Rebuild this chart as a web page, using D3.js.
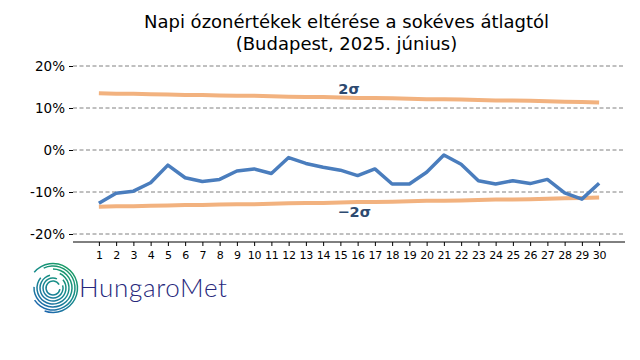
<!DOCTYPE html>
<html><head><meta charset="utf-8">
<script src="https://cdn.jsdelivr.net/npm/d3@7"></script>
<style>body{margin:0;background:#fff}svg{display:block}</style>
</head><body>
<svg id="c" width="640" height="360"></svg>
<script>
const days = d3.range(1, 31);
const deviation = [-12.7,-10.3,-9.8,-7.8,-3.6,-6.6,-7.5,-7.0,-5.0,-4.5,-5.6,-1.8,-3.2,-4.1,-4.8,-6.1,-4.5,-8.1,-8.1,-5.3,-1.2,-3.4,-7.3,-8.1,-7.3,-8.0,-7.0,-10.2,-11.7,-7.9];
const sigma2 = [13.5,13.4,13.4,13.3,13.2,13.1,13.1,13.0,12.9,12.9,12.8,12.7,12.6,12.6,12.5,12.4,12.4,12.3,12.2,12.1,12.1,12.0,11.9,11.8,11.8,11.7,11.6,11.5,11.4,11.3];
const yTicks = [-20,-10,0,10,20];
const titleLines = ["Napi ózonértékek eltérése a sokéves átlagtól","(Budapest, 2025. június)"];

const svg = d3.select("#c");
const x = d3.scaleLinear().domain([-0.5,31.5]).range([73,625]);
const y = d3.scaleLinear().domain([-20,20]).range([234,66]);

// gridlines
svg.append("g").selectAll("line").data(yTicks).join("line")
  .attr("x1",73).attr("x2",625).attr("y1",d=>y(d)).attr("y2",d=>y(d))
  .attr("stroke","#808080").attr("stroke-width",1).attr("stroke-dasharray","4,2.5");

// y axis (ticks and labels, no domain line)
const ya = svg.append("g").attr("transform","translate(73,0)")
  .call(d3.axisLeft(y).tickValues(yTicks).tickSize(4).tickPadding(4).tickFormat(d=>d+"%"));
ya.select(".domain").remove();
ya.selectAll("text").attr("font-family","DejaVu Sans").attr("font-size",13.5).attr("fill","#000");
ya.selectAll("line").attr("stroke","#000");

// x axis
const xa = svg.append("g").attr("transform","translate(0,242)")
  .call(d3.axisBottom(x).tickValues(days).tickSize(4).tickPadding(5).tickFormat(d3.format("d")));
xa.select(".domain").attr("d","M73,0H625").attr("stroke","#000");
xa.selectAll("text").attr("font-family","DejaVu Sans").attr("font-size",11).attr("fill","#000");
xa.selectAll("line").attr("stroke","#000");

// sigma lines
const line = d3.line().x((d,i)=>x(days[i])).y(d=>y(d));
svg.append("path").attr("d",line(sigma2)).attr("fill","none").attr("stroke","#f2b27f").attr("stroke-width",4);
svg.append("path").attr("d",line(sigma2.map(v=>-v))).attr("fill","none").attr("stroke","#f2b27f").attr("stroke-width",4);

// deviation line
svg.append("path").attr("d",line(deviation)).attr("fill","none").attr("stroke","#4a7dbd")
  .attr("stroke-width",3.5).attr("stroke-linejoin","round");

// sigma labels
svg.append("text").attr("x",x(15.5)).attr("y",y(sigma2[14])-4).attr("text-anchor","middle")
  .attr("font-family","DejaVu Sans").attr("font-weight","bold").attr("font-size",14.5).attr("fill","#2d4a70").text("2σ");
svg.append("text").attr("x",x(15.8)).attr("y",y(-sigma2[14])+14).attr("text-anchor","middle")
  .attr("font-family","DejaVu Sans").attr("font-weight","bold").attr("font-size",14.5).attr("fill","#2d4a70").text("−2σ");

// title
svg.append("g").selectAll("text").data(titleLines).join("text")
  .attr("x",346.5).attr("y",(d,i)=>28+i*22).attr("text-anchor","middle")
  .attr("font-family","DejaVu Sans").attr("font-size",18).attr("fill","#000").text(d=>d);

// logo
const logo = svg.append("g").attr("transform","translate(53,288)");
const defs = svg.append("defs");
const gr = defs.append("linearGradient").attr("id","lg").attr("gradientUnits","userSpaceOnUse")
  .attr("x1",20).attr("y1",-25).attr("x2",-15).attr("y2",25);
gr.append("stop").attr("offset","0").attr("stop-color","#1aa05a");
gr.append("stop").attr("offset","0.5").attr("stop-color","#178a8e");
gr.append("stop").attr("offset","1").attr("stop-color","#2060b4");
const radii = [7,10,13,16,19,22,24.5];
radii.forEach((r,i)=>{
  const t = i/(radii.length-1);
  const a0 = (100 - t*150) * Math.PI/180, a1 = (420 - t*220) * Math.PI/180;
  const arc = d3.arc().innerRadius(r-0.75).outerRadius(r+0.75).startAngle(a0).endAngle(a1);
  logo.append("path").attr("d",arc()).attr("fill","url(#lg)");
});
svg.append("text").attr("x",79).attr("y",297).attr("font-family","Lato").attr("font-weight","300")
  .attr("font-size",26).attr("textLength",148).attr("fill","#27287c").text("HungaroMet");
</script>
</body></html>
